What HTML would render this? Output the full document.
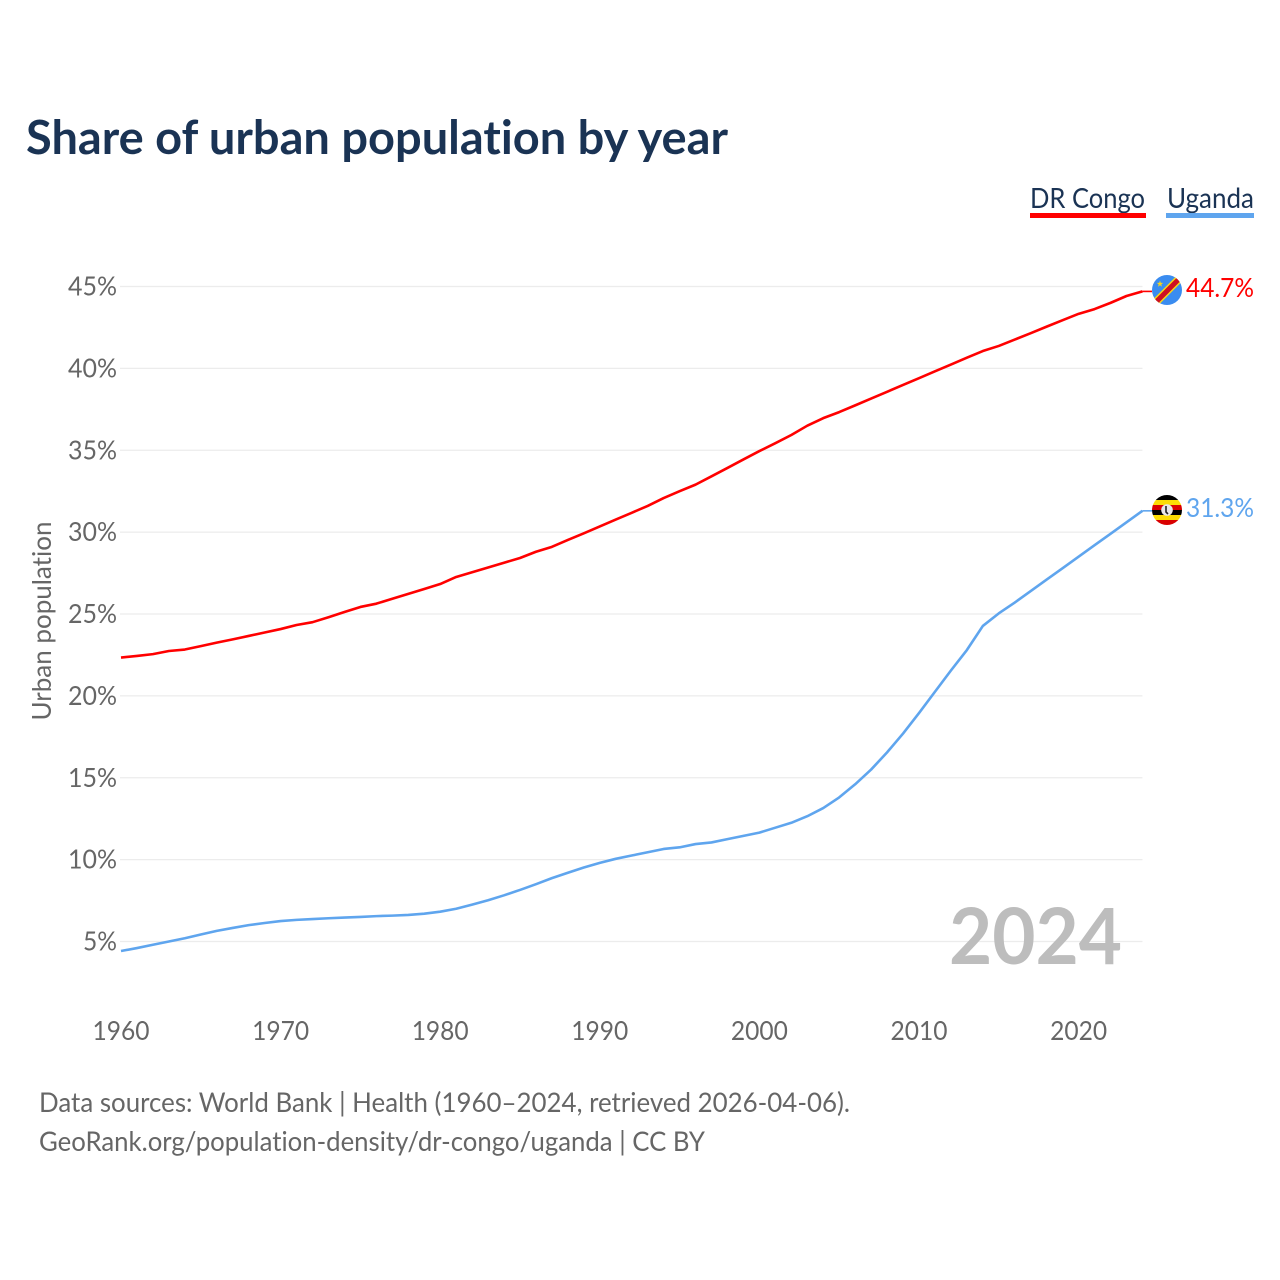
<!DOCTYPE html>
<html lang="en">
<head>
<meta charset="utf-8">
<title>Share of urban population by year</title>
<style>
html,body{margin:0;padding:0;background:#fff;width:1280px;height:1280px;overflow:hidden}
svg{display:block}
text{font-family:"Lato","Carlito","Liberation Sans",sans-serif;font-variant-ligatures:none}
</style>
</head>
<body>
<svg id="chart" xmlns="http://www.w3.org/2000/svg" width="1280" height="1280" viewBox="0 0 1280 1280">
  <rect width="1280" height="1280" fill="#fff"/>
  <text x="26" y="154" font-size="47" font-weight="700" fill="#1a3354" textLength="702" lengthAdjust="spacingAndGlyphs">Share of urban population by year</text>

  <g>
    <g>
      <text x="1030" y="208" font-size="28" fill="#1a3354" textLength="115" lengthAdjust="spacingAndGlyphs">DR Congo</text>
      <rect x="1030" y="213" width="116" height="5" fill="#ff0000"/>
    </g>
    <g>
      <text x="1167" y="208" font-size="28" fill="#1a3354" textLength="87" lengthAdjust="spacingAndGlyphs">Uganda</text>
      <rect x="1166" y="213" width="88" height="5" fill="#5fa5ee"/>
    </g>
  </g>

  <g id="grid"></g>
  <g id="yticks"></g>
  <g id="xticks"></g>
  <text transform="translate(51,621) rotate(-90)" text-anchor="middle" font-size="26" fill="#666" textLength="199" lengthAdjust="spacingAndGlyphs">Urban population</text>

  <text x="1122" y="964" text-anchor="end" font-size="78" font-weight="700" fill="#bdbdbd" textLength="173" lengthAdjust="spacingAndGlyphs">2024</text>

  <g id="series"></g>

  <defs>
    <clipPath id="flag-clip-cd"><circle cx="1167" cy="290" r="15"/></clipPath>
    <clipPath id="flag-clip-ug"><circle cx="1167" cy="510" r="15"/></clipPath>
  </defs>

  <g clip-path="url(#flag-clip-cd)">
    <rect x="1152" y="275" width="30" height="30" fill="#3a8cf0"/>
    <line x1="1150" y1="308" x2="1184" y2="274" stroke="#f7d618" stroke-width="8"/>
    <line x1="1150" y1="308" x2="1184" y2="274" stroke="#ce1021" stroke-width="5"/>
    <polygon points="1160,280.6 1160.8,282.9 1163.2,282.9 1161.3,284.4 1162,286.7 1160,285.3 1158,286.7 1158.7,284.4 1156.8,282.9 1159.2,282.9" fill="#f7d618"/>
  </g>
  <g clip-path="url(#flag-clip-ug)">
    <rect x="1152" y="495" width="30" height="5" fill="#000"/>
    <rect x="1152" y="500" width="30" height="5" fill="#fcdc04"/>
    <rect x="1152" y="505" width="30" height="5" fill="#d90000"/>
    <rect x="1152" y="510" width="30" height="5" fill="#000"/>
    <rect x="1152" y="515" width="30" height="5" fill="#fcdc04"/>
    <rect x="1152" y="520" width="30" height="5" fill="#d90000"/>
    <circle cx="1167" cy="510" r="5.8" fill="#e8e8e8"/>
    <path d="M1166 506v6l2 2" stroke="#222" stroke-width="1.6" fill="none"/>
  </g>

  <text id="end-label-cd" x="1254" y="297" text-anchor="end" font-size="26" fill="#ff0000" textLength="68" lengthAdjust="spacingAndGlyphs"></text>
  <text id="end-label-ug" x="1254" y="517" text-anchor="end" font-size="26" fill="#5fa5ee" textLength="68" lengthAdjust="spacingAndGlyphs"></text>

  <g>
    <text x="39" y="1112" font-size="27" fill="#666" textLength="811" lengthAdjust="spacingAndGlyphs">Data sources: World Bank | Health (1960–2024, retrieved 2026-04-06).</text>
    <text x="39" y="1151" font-size="27" fill="#666" textLength="666" lengthAdjust="spacingAndGlyphs">GeoRank.org/population-density/dr-congo/uganda | CC BY</text>
  </g>
</svg>

<script>
const startYear = 1960;
const xTickYears = [1960, 1970, 1980, 1990, 2000, 2010, 2020];
const yTickValues = [5, 10, 15, 20, 25, 30, 35, 40, 45];
const drCongoValues = [
  22.34, 22.44, 22.55, 22.74, 22.83, 23.04, 23.25, 23.45, 23.66, 23.87,
  24.08, 24.33, 24.5, 24.8, 25.12, 25.43, 25.63, 25.93, 26.23, 26.53,
  26.83, 27.26, 27.55, 27.84, 28.13, 28.42, 28.8, 29.1, 29.52, 29.93,
  30.35, 30.77, 31.18, 31.6, 32.08, 32.5, 32.9, 33.41, 33.92, 34.44,
  34.95, 35.43, 35.93, 36.5, 36.96, 37.33, 37.74, 38.16, 38.57, 38.99,
  39.4, 39.82, 40.23, 40.65, 41.06, 41.37, 41.76, 42.15, 42.55, 42.94,
  43.33, 43.62, 44.0, 44.42, 44.7
];
const ugandaValues = [
  4.42, 4.6, 4.8, 5.0, 5.2, 5.43, 5.65, 5.83, 6.0, 6.13,
  6.25, 6.32, 6.37, 6.42, 6.46, 6.5, 6.55, 6.58, 6.62, 6.7,
  6.82, 7.0, 7.25, 7.52, 7.82, 8.15, 8.5, 8.87, 9.2, 9.52,
  9.8, 10.05, 10.25, 10.45, 10.65, 10.75, 10.95, 11.05, 11.25, 11.45,
  11.65, 11.95, 12.25, 12.65, 13.15, 13.8, 14.6, 15.5, 16.55, 17.7,
  18.95, 20.25, 21.55, 22.8, 24.27, 25.04, 25.7, 26.4, 27.1, 27.8,
  28.5, 29.2, 29.9, 30.6, 31.3
];
const endLabels = ["44.7%", "31.3%"];

const svgNS = "http://www.w3.org/2000/svg";
function xScale(year) { return 121 + (year - 1960) * 15.96; }
function yScale(value) { return 941.5 - (value - 5) * 16.375; }

const grid = document.getElementById("grid");
const yticks = document.getElementById("yticks");
const xticks = document.getElementById("xticks");
const series = document.getElementById("series");

yTickValues.forEach(function (v) {
  const line = document.createElementNS(svgNS, "line");
  
  
  line.setAttribute("x1", 120);
  line.setAttribute("x2", xScale(2024));
  line.setAttribute("y1", yScale(v));
  line.setAttribute("y2", yScale(v));
  line.setAttribute("stroke", "#ececec");
  line.setAttribute("stroke-width", "1.3");
  grid.appendChild(line);

  const t = document.createElementNS(svgNS, "text");
  
  
  t.setAttribute("x", 117);
  t.setAttribute("y", yScale(v) + 9);
  t.setAttribute("text-anchor", "end");
  t.setAttribute("font-size", "26");
  t.setAttribute("fill", "#666");
  t.setAttribute("textLength", v < 10 ? 34 : 49);
  t.setAttribute("lengthAdjust", "spacingAndGlyphs");
  t.textContent = v + "%";
  yticks.appendChild(t);
});

xTickYears.forEach(function (yr) {
  const t = document.createElementNS(svgNS, "text");
  
  
  t.setAttribute("x", xScale(yr));
  t.setAttribute("y", 1040);
  t.setAttribute("text-anchor", "middle");
  t.setAttribute("font-size", "26");
  t.setAttribute("fill", "#666");
  t.setAttribute("textLength", 57);
  t.setAttribute("lengthAdjust", "spacingAndGlyphs");
  t.textContent = yr;
  xticks.appendChild(t);
});

function linePoints(values) {
  return values.map(function (v, i) {
    return xScale(startYear + i).toFixed(2) + "," + yScale(v).toFixed(2);
  }).join(" ");
}

function drawSeries(values, color, name) {
  const pl = document.createElementNS(svgNS, "polyline");
  
  
  pl.setAttribute("points", linePoints(values));
  pl.setAttribute("fill", "none");
  pl.setAttribute("stroke", color);
  pl.setAttribute("stroke-width", "2.6");
  pl.setAttribute("stroke-linejoin", "round");
  series.appendChild(pl);

  const lastY = yScale(values[values.length - 1]);
  const stub = document.createElementNS(svgNS, "line");
  
  
  stub.setAttribute("x1", xScale(2024));
  stub.setAttribute("x2", 1152);
  stub.setAttribute("y1", lastY);
  stub.setAttribute("y2", lastY);
  stub.setAttribute("stroke", color);
  stub.setAttribute("stroke-width", "1.6");
  series.appendChild(stub);
}

drawSeries(drCongoValues, "#ff0000", "line-dr-congo");
drawSeries(ugandaValues, "#5fa5ee", "line-uganda");

document.getElementById("end-label-cd").textContent = endLabels[0];
document.getElementById("end-label-ug").textContent = endLabels[1];
</script>
</body>
</html>
